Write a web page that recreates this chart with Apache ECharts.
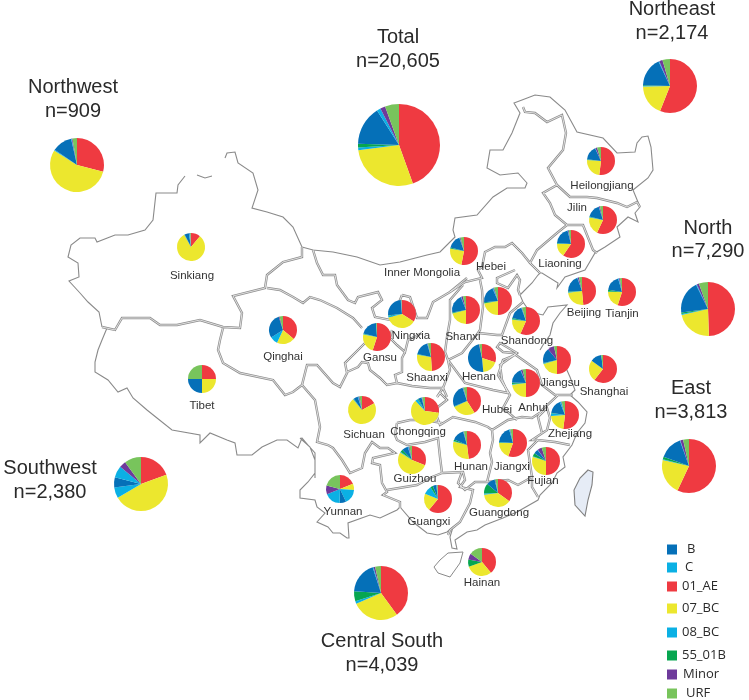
<!DOCTYPE html>
<html><head><meta charset="utf-8">
<style>html,body{margin:0;padding:0;background:#fff}#c{width:749px;height:700px}</style>
<script src="https://cdn.jsdelivr.net/npm/echarts@6/dist/echarts.min.js"></script>
</head><body><div id="c"></div>
<script>
// subtype order runs clockwise from 12 o'clock in every pie
const subtypes = ['01_AE','07_BC','08_BC','55_01B','B','C','Minor','URF'];
const subtypeColors = ['#ef3a41','#ece72e','#0bb0e4','#07a650','#0570b8','#0bb0e4','#6e3a9b','#78c45c'];
const legendOrder = ['B','C','01_AE','07_BC','08_BC','55_01B','Minor','URF'];

// share of each subtype, percent
const total        = [44.5,28.5,1,1.5,15.5,1.5,2,5.5];
const northwest    = [29,55,.5,0,12,.3,.5,2.7];
const northeast    = [56,18.7,.3,.5,17.5,.5,2,4.5];
const north        = [49.5,22,.5,1,19.7,.5,1.3,5.5];
const east         = [57,21.5,.5,1.5,14,.3,1.7,3.5];
const southwest    = [19.5,47,6.5,0,6,7,4,10];
const centralSouth = [40,28.5,1.5,6,19,.5,1,3.5];
const sinkiang     = [11,81,.5,0,5,1,.5,1];
const qinghai      = [36,21,9,0,29,0,1,4];
const tibet        = [25,25,0,0,25,0,0,25];
const sichuan      = [17,72,.5,.5,5,1,1,3];
const yunnan       = [19,7,17,0,7.5,18.5,10,21];
const guizhou      = [31,53,1,3,7,1,1,3];
const guangxi      = [61,20,10,3,4,.5,.5,1];
const chongqing    = [27,61,3,1,4,.5,.5,3];
const heilongjiang = [52,24,.3,.7,16,.5,2,4.5];
const jilin        = [57,21,.5,.5,16,.3,1.2,3.5];
const liaoning     = [59.5,15.5,.5,.5,20,.5,1,2.5];
const innerMongolia= [53,24.5,.5,1,15.5,.5,1,4];
const beijing      = [48.5,24.5,.5,1,20,.5,1.5,3.5];
const tianjin      = [55,20,.5,2,18,1,1,2.5];
const hebei        = [50,22,.5,1,20,1,1,4.5];
const shanxi       = [50,21,.3,.7,22,.5,2,3.5];
const ningxia      = [34,37,2,.5,25,.5,.5,.5];
const shandong     = [56.5,20,.5,1.5,16,.5,.5,4.5];
const gansu        = [55,23,.5,.5,20,0,0,1];
const shaanxi      = [49,28.5,.3,.7,17,.5,.5,3.5];
const henan        = [30,18.5,0,0,48,0,.5,3];
const jiangsu      = [50,20.5,.5,.5,17.5,0,7.5,3.5];
const shanghai     = [60.5,24.5,0,0,13,0,0,2];
const anhui        = [50,23,1,1.5,18,.5,2,4];
const hubei        = [41,27,.3,.5,26,.5,.7,4];
const zhejiang     = [52,22,3,.5,16.5,1.5,.5,4];
const hunan        = [48,31,.5,2,14,.5,.5,3.5];
const jiangxi      = [55.5,19.5,.5,.5,19.5,1,.5,3];
const fujian       = [50,30,.5,4,5,.5,5,5];
const guangdong    = [35,38,1.5,11.5,10,.5,.5,3];
const hainan       = [39,30.5,0,8.5,0,0,7,15];

// regional pies: label lines, data
const regionNames = ['Total','Northwest','Northeast','North','East','Southwest','Central South'];
const regionCounts = ['n=20,605','n=909','n=2,174','n=7,290','n=3,813','n=2,380','n=4,039'];
const regionData = [total,northwest,northeast,north,east,southwest,centralSouth];
// province pies
const provinceNames = ['Sinkiang','Qinghai','Tibet','Sichuan','Yunnan','Guizhou','Guangxi','Chongqing','Heilongjiang','Jilin','Liaoning','Inner Mongolia','Beijing','Tianjin','Hebei','Shanxi','Ningxia','Shandong','Gansu','Shaanxi','Henan','Jiangsu','Shanghai','Anhui','Hubei','Zhejiang','Hunan','Jiangxi','Fujian','Guangdong','Hainan'];
const provinceData = [sinkiang,qinghai,tibet,sichuan,yunnan,guizhou,guangxi,chongqing,heilongjiang,jilin,liaoning,innerMongolia,beijing,tianjin,hebei,shanxi,ningxia,shandong,gansu,shaanxi,henan,jiangsu,shanghai,anhui,hubei,zhejiang,hunan,jiangxi,fujian,guangdong,hainan];

// ---- layout (pixels on the page) ----
const regionPieAt = [[399,145],[77,165],[670,86],[708,309],[689,466],[141,484],[381,593]];
const regionPieR = [41,27,27,27,27,27,27];
const regionLabelAt = [[398,37,61],[73,87,111],[672,9,33],[708,228,251],[691,388,412],[50,468,492],[382,641,665]];
const provincePieAt = [[191,247],[283,330],[202,379],[362,410],[340,489],[412,460],[438,499],[425,411],[601,161],[603,220],[571,244],[464,251],[582,291],[622,292],[498,301],[466,310],[402,314],[526,321],[377,337],[431,357],[482,358],[557,360],[603,369],[526,383],[467,401],[565,415],[467,445],[513,443],[546,461],[498,493],[482,562]];
const provinceLabelAt = [[192,276],[283,357],[202,406],[364,435],[343,512],[415,479],[429,522],[418,432],[602,186],[577,208],[560,264],[422,273],[584,313],[622,314],[491,267],[463,337],[411,336],[527,341],[380,358],[427,378],[479,377],[560,383],[604,392],[533,408],[497,410],[570,434],[471,467],[512,467],[543,481],[499,513],[482,583]];
const legendY = [543,561,580,602,626,649,668,687];
const legendPad = [5,3,0,0,0,0,1,4];

// ---- base map outlines traced as page coordinates ----
const thinLines = [
 [[225,158],[227,153],[235,152],[238,163],[253,173],[258,190],[252,208],[267,212],[283,217],[293,227],[302,247]],
 [[197,175],[205,178],[212,176]],
 [[185,176],[178,185],[177,193],[156,193],[153,220],[145,230],[128,235],[115,235],[97,242],[95,238],[80,238],[71,245],[68,257],[78,263],[79,277],[69,281],[80,293],[88,302],[99,312],[102,327]],
 [[107,328],[102,340],[98,350],[95,362],[95,372],[108,380],[118,392],[127,388],[133,398],[147,410],[157,418],[172,430],[200,435],[200,443],[210,433],[227,440],[235,443],[237,455],[252,455],[262,447],[277,440],[287,440],[298,448],[302,438],[308,445],[315,453],[315,473],[308,482],[300,490],[300,498],[315,500],[317,507],[325,513],[317,522],[328,527],[333,533],[340,533],[347,538],[349,538],[348,523],[370,515],[380,518],[397,510],[400,507],[413,522],[427,533],[438,535],[447,532],[453,527],[450,537],[452,548],[457,549],[455,540],[467,532],[477,530],[485,525],[503,518],[517,512],[538,500],[540,495],[552,483],[557,473],[565,467],[563,457],[572,445],[577,433],[585,423],[587,412],[578,402],[570,395],[575,390],[570,377],[566,368]],
 [[540,350],[543,345],[550,335],[553,323],[560,313],[567,305],[548,307],[543,315],[530,312],[523,302],[522,303],[520,295],[532,283],[538,275],[540,273],[542,273],[558,283],[557,288],[565,277],[585,270],[595,253],[605,247],[620,237],[617,227],[628,217],[638,222],[635,213],[640,207],[633,190],[648,178],[653,170],[651,147],[648,136],[642,137],[637,143],[635,152],[617,153],[603,138],[577,132],[565,110],[550,97],[535,95],[522,100],[514,103],[520,113],[512,133],[503,150],[490,150],[487,168],[500,175],[518,173],[527,183],[525,188],[507,188],[493,197],[477,215],[455,218],[453,230],[455,237],[440,252],[427,255],[400,262],[380,265],[357,257],[333,252],[313,250],[302,247]],
 [[300,438],[310,447],[315,460],[315,478]]
];
const doubleLines = [
 [[302,247],[302,257],[283,262],[267,275],[265,288],[233,296],[242,313],[240,328],[223,327],[200,320],[177,325],[160,325],[150,318],[122,318],[115,330],[102,327]],
 [[223,328],[220,340],[218,350],[223,363],[240,373],[273,380],[285,395],[293,392],[302,385],[307,365],[317,365],[333,383],[340,387],[347,373],[345,363],[355,353],[365,343]],
 [[267,288],[280,290],[293,297],[303,303],[310,297],[320,300],[337,308],[353,318],[362,328]],
 [[313,250],[317,263],[323,275],[335,275],[337,285],[348,300],[355,303],[358,297],[378,292],[382,300],[372,308],[375,317],[390,320],[398,305],[402,295]],
 [[402,295],[410,297],[417,318],[427,318],[433,302],[450,292],[467,278]],
 [[523,107],[525,112],[535,113],[547,122],[562,115],[566,133],[563,150],[548,168],[557,185],[543,193],[550,203],[555,215],[567,225],[557,233],[537,250],[530,263],[540,273]],
 [[557,185],[570,197],[587,197],[597,198],[617,203],[627,207],[637,202],[640,207]],
 [[567,225],[583,225],[593,250],[597,253]],
 [[530,263],[522,253],[512,243],[505,247],[495,247],[485,252],[482,267],[478,270],[482,278],[465,282],[450,292]],
 [[480,280],[482,290],[483,307],[480,330],[478,333],[497,335],[502,335],[510,313],[523,302]],
 [[463,285],[450,300],[450,320],[447,337],[445,352],[448,360],[462,353],[478,333]],
 [[515,270],[497,278],[497,283],[508,288],[517,275],[520,280],[518,290],[520,295]],
 [[392,330],[390,338],[397,345],[405,352],[408,340],[422,333]],
 [[405,352],[402,358],[402,372],[395,375],[397,383],[387,385],[380,378],[370,370],[368,363],[362,362],[358,367],[347,372]],
 [[448,360],[450,370],[443,388],[437,397]],
 [[397,383],[412,386],[430,388],[443,388],[447,397]],
 [[437,397],[440,393],[447,400],[438,407],[437,417],[440,425],[453,417],[475,422],[488,427],[492,430],[508,420],[522,417],[532,418],[547,408]],
 [[397,423],[410,420],[425,420],[442,423]],
 [[397,423],[395,435],[397,440],[407,445],[425,442],[438,438],[440,457],[442,473],[432,477],[417,485],[387,490]],
 [[302,385],[315,400],[320,427],[317,442],[328,445],[333,448],[342,460],[350,473],[362,468],[365,453],[372,442],[380,448],[388,448],[395,453],[373,458],[372,463],[380,465],[382,483],[387,492],[383,495],[400,502],[400,508]],
 [[442,473],[463,472],[465,480],[460,487],[473,490],[470,503],[460,522],[450,530],[448,535]],
 [[462,472],[458,483],[465,490],[475,482],[487,482],[508,480],[518,485],[532,477],[532,487],[538,497]],
 [[492,430],[493,440],[490,453],[492,462],[487,482]],
 [[532,477],[528,450],[538,440],[555,442],[570,445]],
 [[538,440],[532,440],[547,430],[550,418],[547,408],[538,417],[542,433]],
 [[448,360],[465,383],[493,390],[508,393],[502,380],[500,365],[517,353],[500,343],[497,347],[503,352],[513,353],[537,370],[542,385],[555,395],[573,395]],
 [[515,355],[503,360],[498,375],[510,395],[503,408],[517,420]],
 [[538,417],[542,410],[555,398],[558,395]]
];
const taiwanOutline = [[588,470],[593,472],[592,485],[588,500],[585,516],[575,505],[574,490],[580,478],[588,470]];
const hainanOutline = [[463,552],[448,553],[440,560],[434,567],[438,573],[450,577],[460,563],[463,552]];

const feature = (name,type,coordinates)=>({type:'Feature',properties:{name},geometry:{type,coordinates}});
echarts.registerMap('baseOutline',{type:'FeatureCollection',features:[
  feature('thin','MultiLineString',thinLines),
  feature('double','MultiLineString',doubleLines),
  feature('core','MultiLineString',doubleLines),
  feature('taiwan','Polygon',[taiwanOutline]),
  feature('hainanIsland','Polygon',[hainanOutline])
]});

const makePie = (name,values,at,r)=>({
  type:'pie',name,silent:true,animation:false,center:at,radius:[0,r],startAngle:90,clockwise:true,
  minAngle:0,stillShowZeroSum:false,avoidLabelOverlap:false,
  label:{show:false},labelLine:{show:false},emphasis:{disabled:true},
  itemStyle:{borderWidth:0},
  data:subtypes.map((s,i)=>({name:s,value:values[i]}))
});
const series = [
  ...regionNames.map((n,i)=>makePie(n,regionData[i],regionPieAt[i],regionPieR[i])),
  ...provinceNames.map((n,i)=>makePie(n,provinceData[i],provincePieAt[i],14))
];
const text = (str,x,y,size,color)=>({type:'text',silent:true,z:50,x,y,style:{text:str,fill:color,font:size+'px "Liberation Sans",Arial,sans-serif',align:'center',verticalAlign:'middle'}});
const graphics = [];
regionNames.forEach((n,i)=>{const a=regionLabelAt[i];
  graphics.push(text(n,a[0],a[1],20,'#2a2a2a'),text(regionCounts[i],a[0],a[2],20,'#2a2a2a'));});
provinceNames.forEach((n,i)=>{const a=provinceLabelAt[i];graphics.push(text(n,a[0],a[1],11.5,'#333'));});

const legends = legendOrder.map((s,i)=>({data:[s],left:667,top:legendY[i],padding:0,itemWidth:10,itemHeight:10,icon:'rect',selectedMode:false,
   itemStyle:{borderWidth:0},
   textStyle:{color:'#2a2a2a',fontFamily:'"Open Sans",sans-serif',fontSize:13,padding:[0,0,0,legendPad[i]]}}));

const chart = echarts.init(document.getElementById('c'));
chart.setOption({
  animation:false,backgroundColor:'#fff',color:subtypeColors,
  legend:legends,
  geo:{map:'baseOutline',silent:true,z:1,
    projection:{project:p=>p,unproject:p=>p},
    left:0,top:0,width:749,height:700,boundingCoords:[[0,0],[749,700]],
    label:{show:false},
    itemStyle:{areaColor:'transparent',borderColor:'#888',borderWidth:1.1},
    regions:[
      {name:'thin',itemStyle:{borderColor:'#8a8a8a',borderWidth:1.1}},
      {name:'double',itemStyle:{borderColor:'#8f8f8f',borderWidth:2.4}},
      {name:'core',itemStyle:{borderColor:'#f4f4f4',borderWidth:0.8}},
      {name:'taiwan',itemStyle:{areaColor:'#e6ecf6',borderColor:'#808080',borderWidth:1.1}},
      {name:'hainanIsland',itemStyle:{areaColor:'#fff',borderColor:'#8a8a8a',borderWidth:1}}
    ]},
  series,
  graphic:graphics
});
</script></body></html>
